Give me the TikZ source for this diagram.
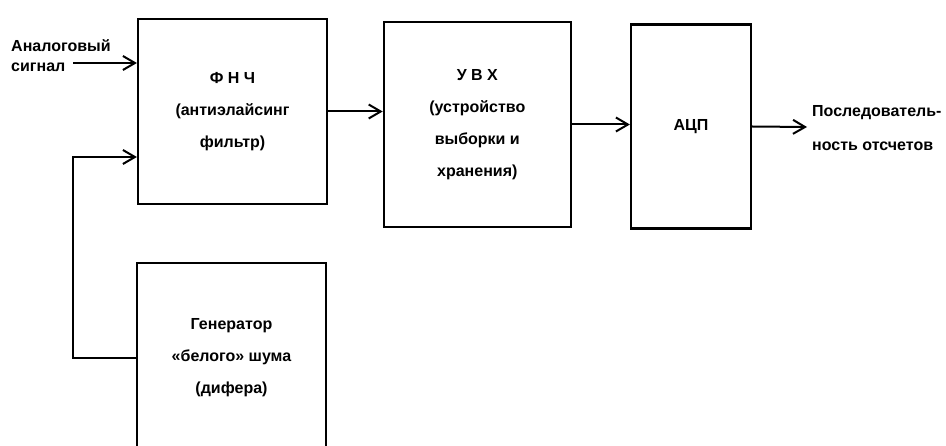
\documentclass[tikz,border=0pt]{standalone}
\usepackage{fontspec}
\setmainfont{Liberation Sans}
\usetikzlibrary{arrows.meta}
\begin{document}
\begin{tikzpicture}[x=1bp,y=-1bp,
  blk/.style={draw=black, line width=2.2bp, inner sep=0pt, align=center,
    font=\bfseries\fontsize{16bp}{32bp}\selectfont},
  lbl/.style={inner sep=0pt, align=left, anchor=north west},
  conn/.style={line width=2bp, -{Straight Barb[length=12bp,width=14bp,line width=2bp]}},
  wire/.style={line width=2bp}]
\useasboundingbox (0,0) rectangle (946,446);
\clip (0,0) rectangle (946,446);
\node[blk, minimum width=189bp, minimum height=185bp] (fnch) at (232.5,111.5)
  {Ф Н Ч\\(антиэлайсинг\\фильтр)};
\node[blk, minimum width=187bp, minimum height=205bp] (uvx) at (477.3,124.5)
  {У В Х\\(устройство\\выборки и\\хранения)};
\node[blk, minimum width=120bp, minimum height=204bp] (adc) at (691,126.5)
  {АЦП};
\node[blk, minimum width=189bp, minimum height=190bp] (gen) at (231.5,358)
  {Генератор\\«белого» шума\\(дифера)};
\node[lbl, font=\bfseries\fontsize{16bp}{20bp}\selectfont] (inlbl) at (11,39)
  {Аналоговый\\сигнал};
\node[lbl, font=\bfseries\fontsize{16bp}{34bp}\selectfont] (outlbl) at (812,105)
  {Последователь-\\ность отсчетов};
\coordinate (inS) at (73,63);
\coordinate (outE) at (807,127);
\coordinate (fbX) at (73,157);
\draw[conn] (inS) -- (inS -| fnch.west);
\draw[conn] (fnch.east) -- (fnch.east -| uvx.west);
\draw[conn] (uvx.east) -- (uvx.east -| adc.west);
\draw[conn] (adc.east) -- (outE);
\draw[conn] (gen.west) -| (fbX) -- (fbX -| fnch.west);
\end{tikzpicture}
\end{document}
